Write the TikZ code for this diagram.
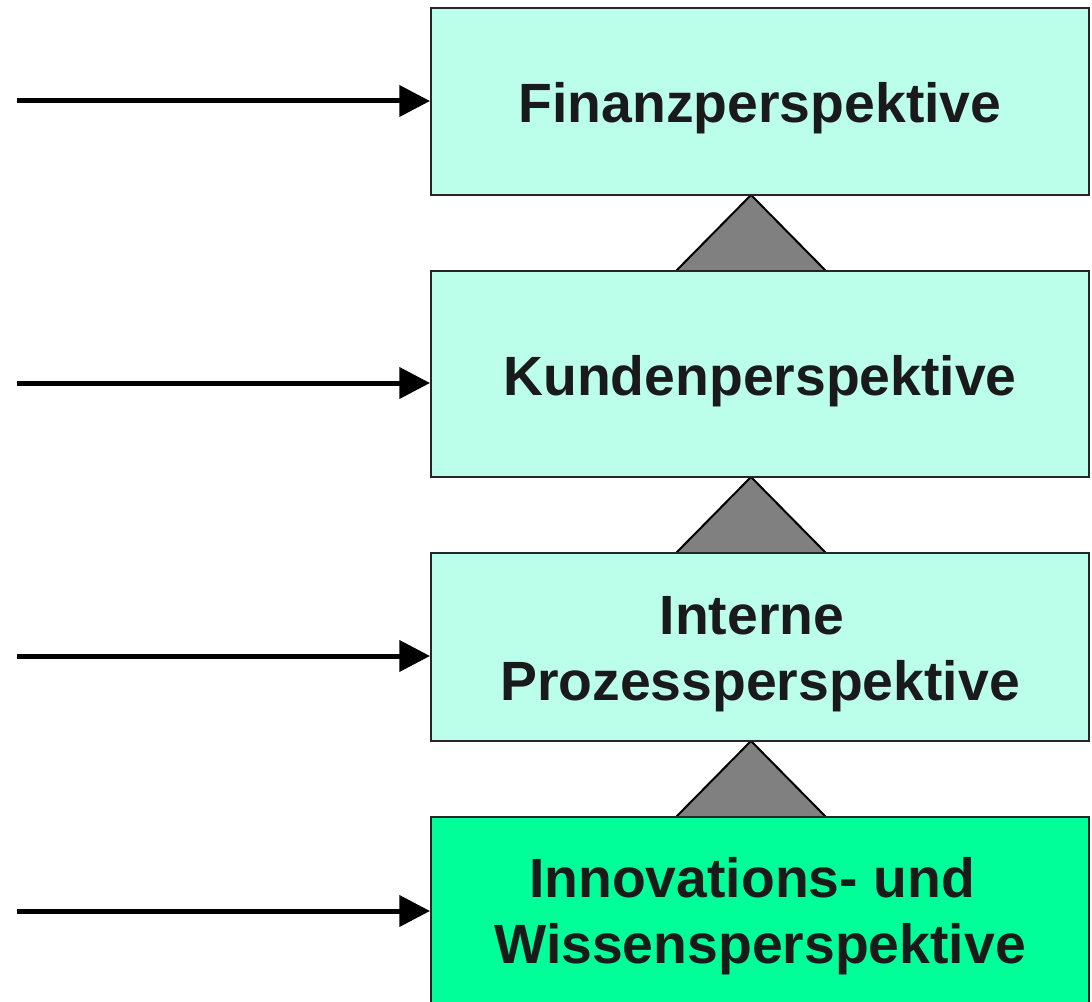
\documentclass[tikz,border=0pt]{standalone}
\usepackage{fontspec}
\setmainfont{Liberation Sans}
\usetikzlibrary{arrows.meta}
\definecolor{boxpale}{HTML}{BBFFEB}
\definecolor{boxgreen}{HTML}{00FF99}
\definecolor{txt}{HTML}{1A1A1A}
\definecolor{tri}{HTML}{808080}
\newcommand{\lowr}[2]{\raisebox{-#1}[\height][\depth]{#2}}
\tikzset{
  persp/.style={draw=black!85, line width=1.5pt, fill=boxpale, minimum width=493.5pt,
    align=center, text=txt, font=\fontsize{41.5}{49.5}\selectfont\bfseries, inner sep=0pt},
  conn/.style={draw=black, fill=tri, line width=1.5pt, line join=miter},
  inarrow/.style={line width=3.75pt, -{Triangle[length=23pt,width=23pt]}},
}
\begin{document}
\begin{tikzpicture}[x=0.75pt,y=-0.75pt]
\useasboundingbox (0,0) rectangle (1092,1002);
% triangles (behind boxes)
\filldraw[conn] (751,195) -- (826,271) -- (676,271) -- cycle;
\filldraw[conn] (751,477) -- (826,553) -- (676,553) -- cycle;
\filldraw[conn] (751,741) -- (826,817) -- (676,817) -- cycle;
% boxes
\node[persp, minimum height=140.25pt] (fin) at (760,101.5) {\lowr{5.25pt}{Finanzperspektive}};
\node[persp, minimum height=154.5pt] (kun) at (760,374) {\lowr{5.25pt}{Kundenperspektive}};
\node[persp, minimum height=141pt] (int) at (760,647) {\lowr{5.25pt}{Interne\hspace{12pt}}\\\lowr{5.25pt}{Prozessperspektive}};
\node[persp, fill=boxgreen, minimum height=141pt] (inn) at (760,911) {\lowr{3.75pt}{Innovations- und\hspace{12pt}}\\\lowr{3.75pt}{Wissensperspektive}};
% incoming arrows
\coordinate (s1) at (17,101);
\coordinate (s2) at (17,383);
\coordinate (s3) at (17,656);
\coordinate (s4) at (17,911);
\draw[inarrow] (s1) -- (s1 -| fin.west);
\draw[inarrow] (s2) -- (s2 -| kun.west);
\draw[inarrow] (s3) -- (s3 -| int.west);
\draw[inarrow] (s4) -- (s4 -| inn.west);
\end{tikzpicture}
\end{document}
